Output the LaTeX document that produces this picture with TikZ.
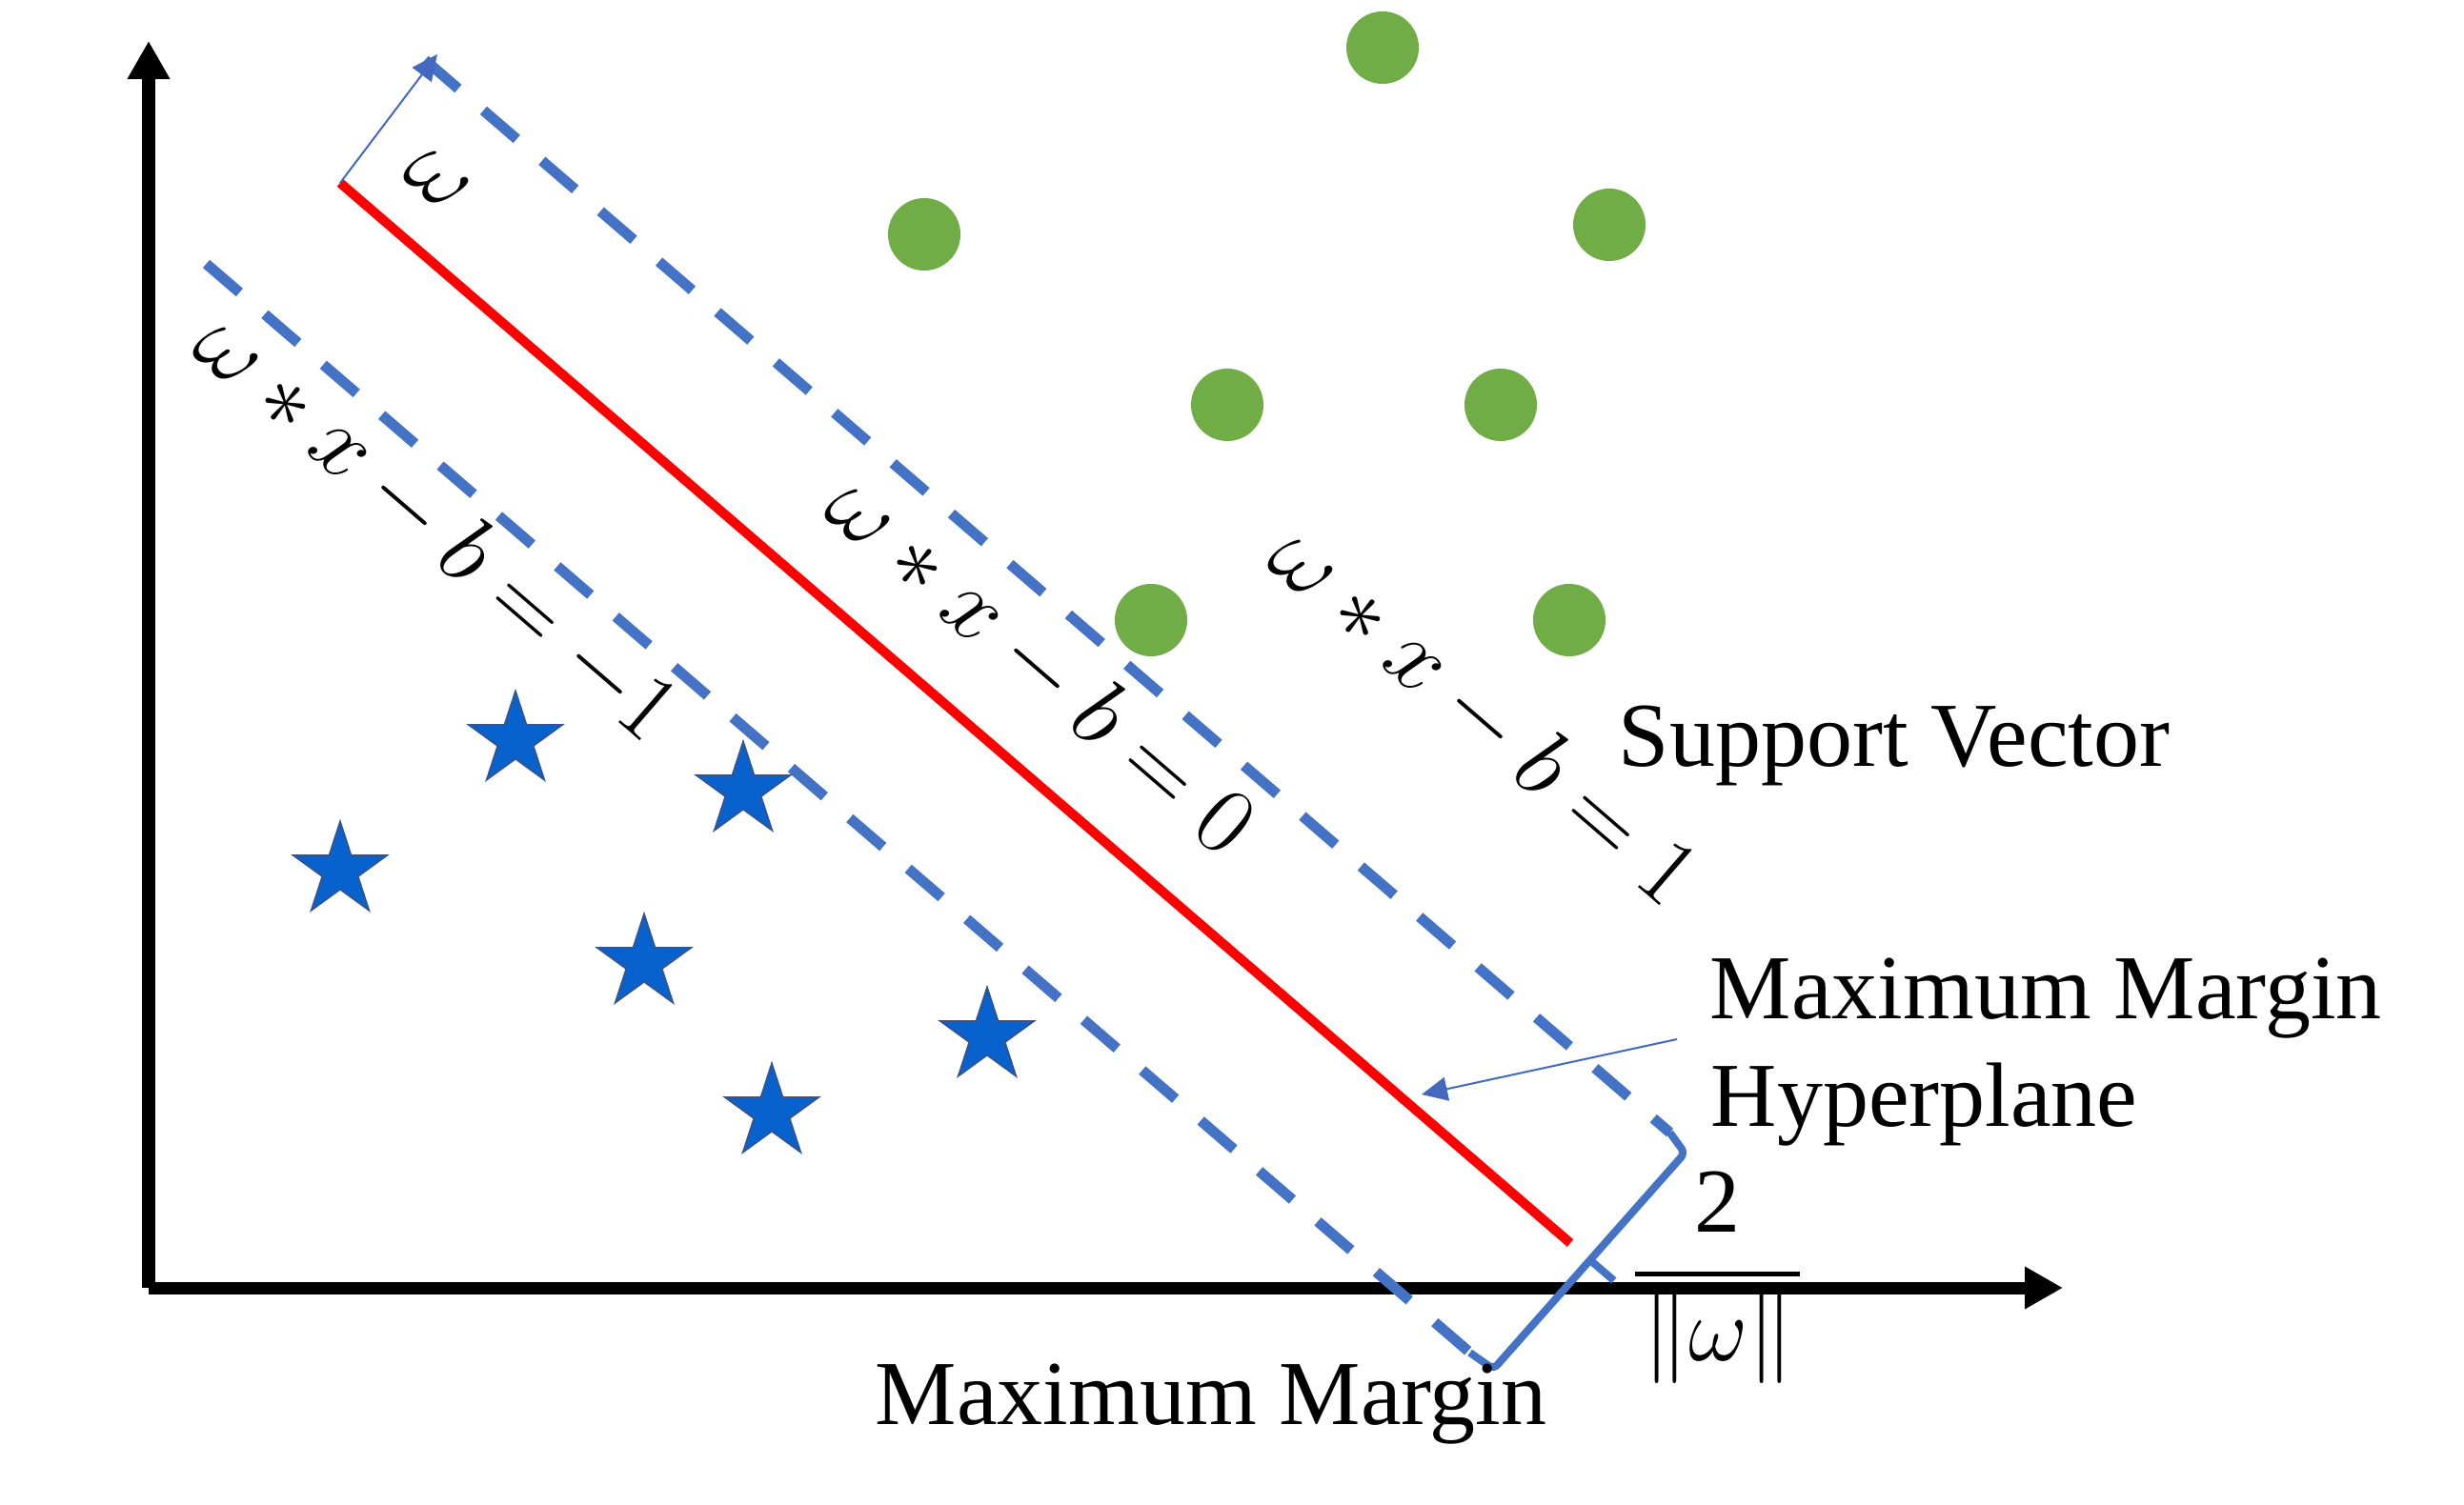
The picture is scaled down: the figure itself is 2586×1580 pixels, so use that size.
\RequirePackage{fix-cm}
\documentclass[tikz,border=0pt]{standalone}
\usepackage{fontspec}
\setmainfont{Liberation Serif}
\usetikzlibrary{arrows.meta,shapes.geometric}
\definecolor{dashblue}{RGB}{68,114,196}
\definecolor{thinblue}{RGB}{68,104,190}
\definecolor{dotgreen}{RGB}{112,173,71}
\definecolor{starfill}{RGB}{8,98,206}
\definecolor{starline}{RGB}{47,85,151}
\newcommand\lblfont{\fontsize{27.3}{32}\selectfont}
\newcommand\eqfont{\fontsize{28.6}{33}\selectfont}
\begin{document}
\begin{tikzpicture}[x=0.01cm,y=-0.01cm,
  axisline/.style={line width=0.13cm,-{Triangle[width=0.42cm,length=0.40cm]}},
  marginline/.style={dashblue,line width=0.11cm,dash pattern=on 0.46cm off 0.35cm},
  hyperline/.style={red,line width=0.10cm},
  bracketline/.style={dashblue,line width=0.08cm,rounded corners=0.06cm},
  thinarrow/.style={thinblue,line width=0.02cm,-{Triangle[width=0.25cm,length=0.27cm]}},
  dotnode/.style={circle,fill=dotgreen,minimum size=0.76cm,inner sep=0pt},
  starnode/.style={star,star points=5,star point ratio=2.618,fill=starfill,draw=starline,line width=0.02cm,minimum size=1.02cm,inner sep=0pt},
  lbl/.style={font=\lblfont,inner sep=0pt},
  eqlbl/.style={font=\eqfont,inner sep=0pt,rotate=-40.77,anchor=base}]
\fill[white] (0,0) rectangle (2586,1580);
\useasboundingbox (0,0) rectangle (2586,1580);
% axes
\coordinate (O) at (156,1352);
\coordinate (Ytip) at (156,43);
\coordinate (Xtip) at (2165,1352);
\draw[axisline] (O) -- (Ytip);
\draw[axisline] (O) -- (Xtip);
% key points
\coordinate (R0) at (357,192);
\coordinate (R1) at (1648,1305);
\coordinate (U0) at (446,63);
\coordinate (U1) at (1752.5,1189);
\coordinate (L0) at (216.5,277);
\coordinate (L1) at (1542.7,1420);
\coordinate (Bt) at (1768.2,1210.5);
\coordinate (Bb) at (1567.4,1437.4);
\coordinate (Bm) at (1671.1,1324.8);
\coordinate (Bk) at (1693.8,1344.4);
\coordinate (wTip) at (459,57);
\coordinate (hpStart) at (1760,1091);
\coordinate (hpTip) at (1492,1149);
\coordinate (fbL) at (1716,1337);
\coordinate (fbR) at (1889,1337);
% lines
\draw[marginline] (U0) -- (U1);
\draw[marginline] (L0) -- (L1);
\draw[hyperline] (R0) -- (R1);
\draw[bracketline] (U1) -- (Bt) -- (Bb) -- (L1);
\draw[dashblue,line width=0.08cm] (Bm) -- (Bk);
\draw[thinarrow] (R0) -- (wTip);
\draw[thinarrow] (hpStart) -- (hpTip);
% green dots
\node[dotnode] (g1) at (1451,50) {};
\node[dotnode] (g2) at (970,246) {};
\node[dotnode] (g3) at (1689,236) {};
\node[dotnode] (g4) at (1288,425) {};
\node[dotnode] (g5) at (1575,425) {};
\node[dotnode] (g6) at (1208,651) {};
\node[dotnode] (g7) at (1647,651) {};
% stars
\node[starnode] (s1) at (541,777) {};
\node[starnode] (s2) at (780,830) {};
\node[starnode] (s3) at (357,914) {};
\node[starnode] (s4) at (676,1011) {};
\node[starnode] (s5) at (810,1168) {};
\node[starnode] (s6) at (1036,1088) {};
% rotated labels
\node[eqlbl] (eqm) at (438,576) {$\omega * x - b = -1$};
\node[eqlbl] (eqz) at (1072,721) {$\omega * x - b = 0$};
\node[eqlbl] (eqp) at (1537,774) {$\omega * x - b = 1$};
\node[eqlbl] (wlbl) at (444,206) {$\omega$};
% texts
\node[lbl,anchor=base west] (sv) at (1698,805) {Support Vector};
\node[lbl,anchor=base west] (hypA) at (1794,1069) {Maximum Margin};
\node[lbl,anchor=base west] (hypB) at (1795,1182) {Hyperplane};
\node[lbl,anchor=base west] (mm) at (918,1495) {Maximum Margin};
\node[lbl,anchor=base] (two) at (1802,1293) {2};
\draw[line width=0.05cm] (fbL) -- (fbR);
\node[lbl,anchor=base] (norm) at (1803,1428) {$\|\omega\|$};
\end{tikzpicture}
\end{document}
